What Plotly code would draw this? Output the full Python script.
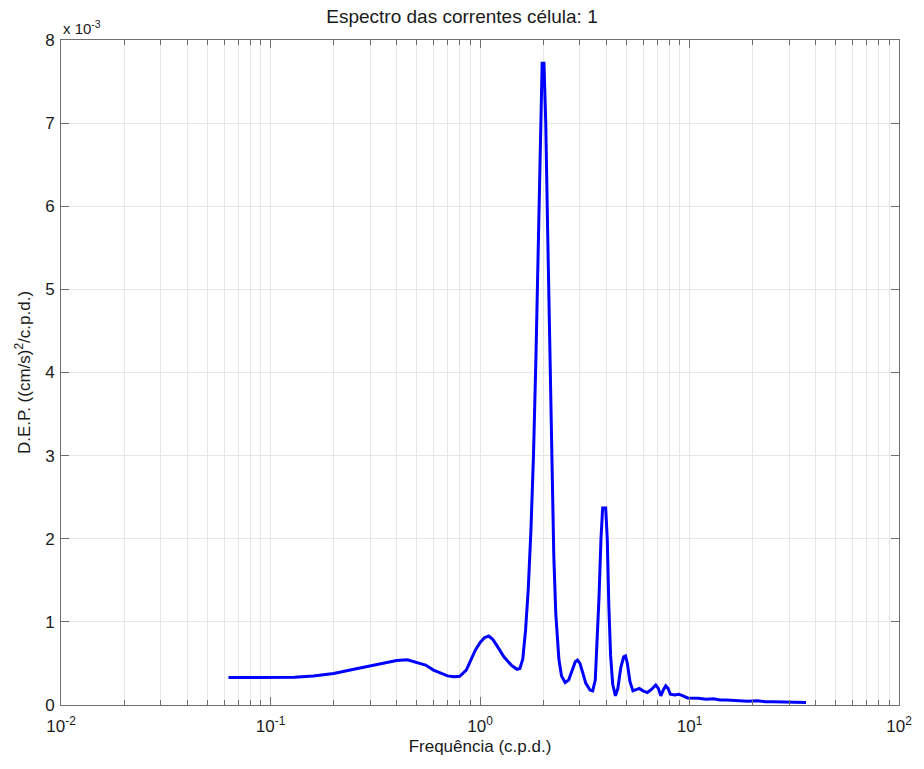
import plotly.graph_objects as go

freq = [0.063, 0.08, 0.1, 0.13, 0.16, 0.2, 0.25, 0.3, 0.35, 0.4, 0.45, 0.5, 0.55, 0.6, 0.65,
        0.7, 0.75, 0.8, 0.86, 0.9, 0.95, 1.0, 1.05, 1.1, 1.15, 1.2, 1.3, 1.41, 1.5, 1.55,
        1.6, 1.65, 1.7, 1.75, 1.8, 1.85, 1.9, 1.95, 1.98, 2.02, 2.06, 2.1, 2.15, 2.2, 2.25,
        2.3, 2.38, 2.45, 2.55, 2.65, 2.75, 2.85, 2.92, 3.0, 3.1, 3.2, 3.35, 3.45, 3.55, 3.62,
        3.7, 3.78, 3.85, 3.98, 4.05, 4.12, 4.2, 4.3, 4.43, 4.55, 4.7, 4.85, 4.95, 5.05, 5.2,
        5.37, 5.55, 5.76, 6.0, 6.3, 6.6, 6.9, 7.1, 7.3, 7.5, 7.7, 7.9, 8.1, 8.5, 8.9, 9.3,
        9.8, 11, 12, 13, 14, 15, 17, 19, 21, 23, 25, 28, 30, 33, 36]
dep = [0.33, 0.33, 0.33, 0.335, 0.35, 0.38, 0.43, 0.47, 0.51, 0.535, 0.545, 0.51, 0.48, 0.42, 0.38,
       0.35, 0.34, 0.345, 0.42, 0.54, 0.66, 0.75, 0.81, 0.83, 0.79, 0.72, 0.58, 0.48, 0.43, 0.44,
       0.55, 0.9, 1.4, 2.1, 3.0, 4.2, 5.6, 7.0, 7.72, 7.72, 7.0, 5.8, 4.3, 2.9, 1.8,
       1.1, 0.55, 0.35, 0.27, 0.30, 0.42, 0.52, 0.54, 0.50, 0.38, 0.26, 0.18, 0.17, 0.30, 0.7,
       1.3, 2.0, 2.37, 2.37, 2.0, 1.2, 0.6, 0.25, 0.11, 0.2, 0.45, 0.58, 0.59, 0.5, 0.28,
       0.17, 0.18, 0.2, 0.17, 0.15, 0.19, 0.24, 0.2, 0.11, 0.18, 0.23, 0.2, 0.13, 0.12, 0.13, 0.11,
       0.085, 0.08, 0.07, 0.075, 0.06, 0.06, 0.05, 0.045, 0.05, 0.04, 0.04, 0.035, 0.04, 0.03, 0.03]

decades = [-2, -1, 0, 1, 2]
xtick_vals = [10.0 ** d for d in decades]
xtick_text = ["10<sup>%d</sup>" % d for d in decades]
minor_vals = [m * 10.0 ** d for d in decades[:-1] for m in range(2, 10)]
ytick_vals = list(range(0, 9))

FONT = "Liberation Sans, Arial, Helvetica"
TXT = "#1a1a1a"

fig = go.Figure()
fig.add_trace(go.Scatter(x=freq, y=dep, mode="lines",
                         line=dict(color="#0000FF", width=3), showlegend=False))

axis_common = dict(showline=True, linecolor="#6e6e6e", linewidth=1, mirror="ticks",
                   ticks="inside", tickcolor="#6e6e6e", showgrid=True, gridcolor="#e6e6e6",
                   gridwidth=1, zeroline=False,
                   tickfont=dict(family=FONT, size=17, color=TXT))

fig.update_layout(
    width=924, height=769,
    margin=dict(l=61, r=18, t=40, b=64),
    paper_bgcolor="white", plot_bgcolor="white",
    title=dict(text="Espectro das correntes célula: 1", x=0.5, xanchor="center",
               y=0.979, yanchor="middle",
               font=dict(family=FONT, size=19, color=TXT)),
    xaxis=dict(type="log", range=[-2, 2], tickmode="array", tickvals=xtick_vals,
               ticktext=xtick_text, ticklen=8, ticklabelstandoff=6,
               minor=dict(tickmode="array", tickvals=minor_vals, ticks="inside", ticklen=5,
                          tickcolor="#6e6e6e", showgrid=True, gridcolor="#e6e6e6"),
               title=dict(text="Frequência (c.p.d.)", standoff=4,
                          font=dict(family=FONT, size=17, color=TXT)),
               **axis_common),
    yaxis=dict(range=[0, 8], tickmode="array", tickvals=ytick_vals, ticklen=8,
               ticklabelstandoff=2,
               title=dict(text="D.E.P. ((cm/s)<sup>2</sup>/c.p.d.)", standoff=10,
                          font=dict(family=FONT, size=17, color=TXT)),
               **axis_common),
    annotations=[dict(text="x 10<sup>-3</sup>", xref="paper", yref="paper", x=0, y=1,
                      xanchor="left", yanchor="bottom", showarrow=False, yshift=1,
                      font=dict(family=FONT, size=15, color=TXT))],
)

fig.write_html("out.html")
